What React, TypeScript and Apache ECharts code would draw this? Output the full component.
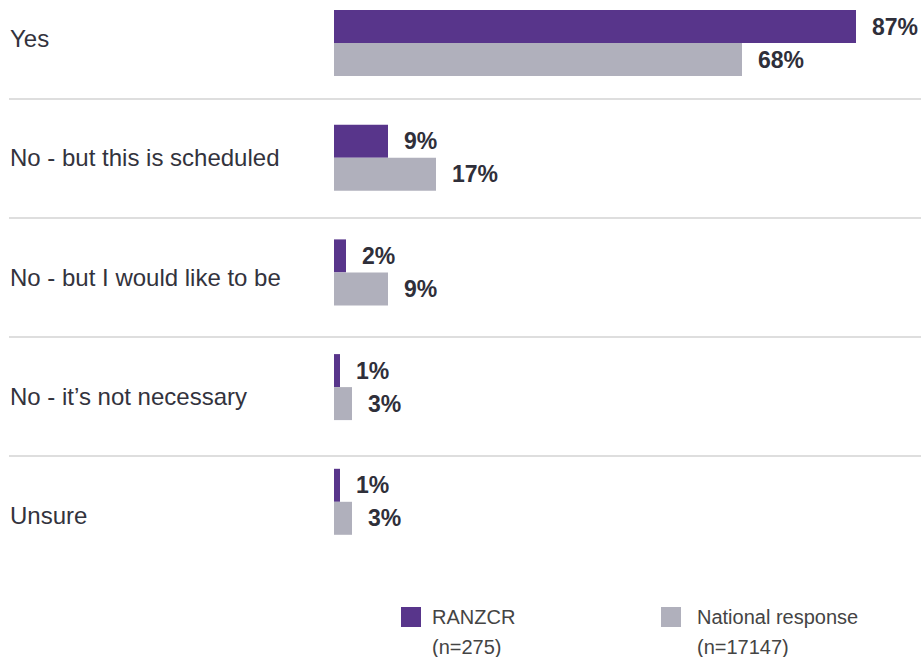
import React, { useEffect, useRef } from "react";
import * as echarts from "echarts";

const categories = [
  "Yes",
  "No - but this is scheduled",
  "No - but I would like to be",
  "No - it’s not necessary",
  "Unsure",
];
const ranzcrValues = [87, 9, 2, 1, 1];
const nationalValues = [68, 17, 9, 3, 3];
const seriesNames = ["RANZCR", "National response"];
const sampleSizes = ["(n=275)", "(n=17147)"];

const PURPLE = "#58358b";
const GRAY = "#b0b0bc";
const FONT = "'Liberation Sans', Arial, sans-serif";

export default function App() {
  const ref = useRef<HTMLDivElement>(null);
  useEffect(() => {
    if (!ref.current) return;
    const chart = echarts.init(ref.current, null, { renderer: "svg" });
    const valueLabel = {
      show: true,
      position: "right",
      distance: 16,
      formatter: "{c}%",
      fontSize: 23,
      fontWeight: "bold",
      color: "#2f2f3a",
      fontFamily: FONT,
    };
    const legendFor = (i: number, left: number, gap: number) => ({
      data: [seriesNames[i]],
      left,
      top: 572,
      padding: 0,
      orient: "horizontal",
      icon: "rect",
      itemWidth: 20,
      itemHeight: 20,
      formatter: (name: string) =>
        "\n" + name + "\n" + sampleSizes[seriesNames.indexOf(name)],
      textStyle: {
        fontSize: 20,
        color: "#444",
        fontFamily: FONT,
        lineHeight: 30,
        padding: [0, 0, 0, gap],
      },
    });
    chart.setOption({
      animation: false,
      textStyle: { fontFamily: FONT },
      grid: [
        { left: 9, right: 0, top: -20.9, height: 596, outerBoundsMode: "none", containLabel: false },
        { left: 334, width: 600, top: -14.35, height: 573.5, outerBoundsMode: "none", containLabel: false },
      ],
      xAxis: [
        { gridIndex: 0, type: "value", show: false },
        { gridIndex: 1, type: "value", min: 0, max: 100, show: false },
      ],
      yAxis: [
        {
          gridIndex: 0,
          type: "category",
          data: categories,
          inverse: true,
          axisLine: { show: false },
          axisTick: { show: false },
          axisLabel: {
            align: "left",
            margin: -1,
            fontSize: 24,
            color: "#33333d",
            fontFamily: FONT,
            interval: 0,
          },
          splitLine: {
            show: true,
            interval: 0,
            showMinLine: false,
            showMaxLine: false,
            lineStyle: { color: "#dedede", width: 2 },
          },
        },
        {
          gridIndex: 1,
          type: "category",
          data: categories,
          inverse: true,
          show: false,
        },
      ],
      legend: [legendFor(0, 401, 6), legendFor(1, 661, 11)],
      series: [
        {
          name: seriesNames[0],
          type: "bar",
          xAxisIndex: 1,
          yAxisIndex: 1,
          data: ranzcrValues,
          barWidth: 33,
          barGap: "0%",
          itemStyle: { color: PURPLE },
          label: valueLabel,
        },
        {
          name: seriesNames[1],
          type: "bar",
          xAxisIndex: 1,
          yAxisIndex: 1,
          data: nationalValues,
          barWidth: 33,
          barGap: "0%",
          itemStyle: { color: GRAY },
          label: valueLabel,
        },
      ],
    });
    return () => chart.dispose();
  }, []);
  return (
    <div
      ref={ref}
      style={{ position: "absolute", left: 0, top: 0, width: 921, height: 657 }}
    />
  );
}
